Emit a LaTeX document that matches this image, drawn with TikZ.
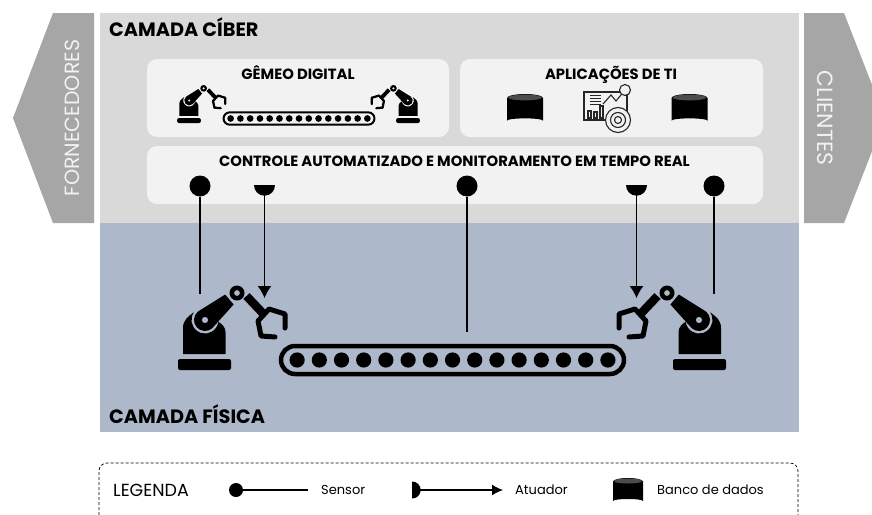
\documentclass[tikz,border=0pt]{standalone}
\usepackage{fontspec}
\setmainfont{Poppins}
\usetikzlibrary{arrows.meta,shapes.geometric}
\definecolor{cinzaciber}{HTML}{D9D9D9}
\definecolor{azulfisica}{HTML}{ADB9CA}
\definecolor{cinzaseta}{HTML}{A6A6A6}
\definecolor{cinzapainel}{HTML}{F2F2F2}
\tikzset{
  painel/.style={fill=cinzapainel,rounded corners=10pt},
  titulo/.style={font=\bfseries\fontsize{14.8}{14.8}\selectfont,inner sep=0pt},
  camada/.style={font=\bfseries\fontsize{19.3}{19.3}\selectfont,inner sep=0pt,anchor=west},
  lado/.style={text=cinzapainel,font=\fontsize{20.6}{20.6}\selectfont,inner sep=0pt},
  legenda/.style={font=\fontsize{13}{13}\selectfont,inner sep=0pt,anchor=west},
  sensor/.style={circle,fill=black,inner sep=0pt,minimum size=21pt},
  atuador/.style={semicircle,fill=black,inner sep=0pt,minimum size=10.5pt,anchor=chord center,shape border rotate=180},
  fio/.style={line width=1.2pt},
  fioseta/.style={line width=1.2pt,-{Latex[length=12pt,width=14pt]}},
  icone/.style={draw=black!85,line width=1.1pt}
}
\newcommand{\robo}[4]{
  \begin{scope}[shift={(#1,#2)},xscale=#3*#4,yscale=#4]
    \fill[rounded corners=2pt] (-26.5,0) -- (-26.5,-11) -- (26.5,-11) -- (26.5,0) -- cycle;
    \fill (-21.5,-16) -- (-21.5,-42) .. controls (-21.5,-50) and (-16,-54) .. (-10.56,-57.74)
      arc[start angle=215,end angle=8,radius=13.5]
      .. controls (18,-46) and (21,-42) .. (21,-38) -- (21,-16) -- cycle;
    \fill[even odd rule] (7.6,-41.6) arc[start angle=50,end angle=230,radius=11]
      -- (20.7,-75.5) -- (29.1,-65.5) -- cycle (0.5,-50) circle (3.2);
    \fill[even odd rule] (32.5,-77) circle (7.5) (32.5,-77) circle (3);
    \draw[line width=#4*8.5pt] (42,-74) -- (60,-55);
    \draw[line width=#4*5pt,line cap=round,line join=round] (80.5,-42) -- (80.5,-56) -- (64.5,-61)
      -- (53.5,-49) -- (56.5,-34) -- (70.5,-33);
  \end{scope}
}
\newcommand{\esteira}[3]{
  \begin{scope}[shift={(#1,#2)},scale=#3]
    \draw[line width=#3*4.5pt] (-157.5,-14) -- (157.5,-14) arc[start angle=-90,end angle=90,radius=14]
      -- (-157.5,14) arc[start angle=90,end angle=270,radius=14] -- cycle;
    \foreach\x in{-7,...,7}{
      \fill (\x*22.2,0) circle (7.6);}
  \end{scope}
}
\newcommand{\banco}[4]{
  \begin{scope}[shift={(#1,#2)},xscale=#3,yscale=#4]
    \fill (-1,-0.36) -- (-1,0.42) arc[start angle=180,end angle=360,x radius=1,y radius=0.08] -- (1,-0.36) -- cycle;
    \fill (0,-0.36) ellipse (1 and 0.14);
    \fill[black!70] (0,-0.38) ellipse (0.94 and 0.1);
  \end{scope}
}
\begin{document}
\begin{tikzpicture}[x=1pt,y=-1pt]
  \useasboundingbox (0,0) rectangle (872,514);
  \clip (0,0) rectangle (872,514);
  \fill[cinzaciber] (100,13) rectangle (799,223);
  \fill[azulfisica] (100,223) rectangle (799,432);
  \fill[cinzaseta] (94,13) -- (53,13) -- (13,118) -- (53,223) -- (94,223) -- cycle;
  \fill[cinzaseta] (804,13) -- (844,13) -- (885,118) -- (844,223) -- (804,223) -- cycle;
  \node[lado,rotate=90] (fornecedores) at (72,118) {FORNECEDORES};
  \node[lado,rotate=-90,font=\fontsize{22}{22}\selectfont] (clientes) at (825,118) {CLIENTES};
  \node[camada] (ciber) at (109,27.5) {CAMADA CÍBER};
  \node[camada] (fisica) at (109,414.5) {CAMADA FÍSICA};
  \fill[painel] (147,59) rectangle (449,137);
  \fill[painel] (460,59) rectangle (763,137);
  \fill[painel] (147,146) rectangle (763,204);
  \node[titulo] (gemeo) at (298,73) {GÊMEO DIGITAL};
  \node[titulo] (aplicacoes) at (611,75) {APLICAÇÕES DE TI};
  \node[titulo] (controle) at (454.5,161) {CONTROLE AUTOMATIZADO E MONITORAMENTO EM TEMPO REAL};
  \robo{189}{123}{1}{0.45}
  \robo{408}{123}{-1}{0.45}
  \esteira{299}{118.5}{0.44}
  \banco{525}{108.5}{18}{29}
  \banco{689.5}{108.5}{18}{29}
  \draw[icone,fill=cinzapainel] (584,92) rectangle (627,120);
  \foreach\y in{95,98,101,104}{
    \draw[black!85,line width=0.9pt] (590,\y) -- (601,\y);}
  \draw[icone] (603,104) -- (611,95) -- (616,101) -- (625,90);
  \draw[icone] (588,111) rectangle (591,118) (594,112) rectangle (597,118) (600,106) rectangle (603,118);
  \draw[icone,fill=cinzapainel] (625,90) circle (5.5);
  \draw[icone,fill=cinzapainel] (618,120) circle (12.5);
  \draw[icone] (618,120) circle (7.5) (618,120) circle (3.5);
  \node[sensor] (sensorA) at (200,186) {};
  \node[sensor] (sensorB) at (467,186) {};
  \node[sensor] (sensorC) at (714,186) {};
  \node[atuador] (atuadorA) at (264.5,185) {};
  \node[atuador] (atuadorB) at (636.5,185) {};
  \coordinate (fimA) at (200,294);
  \coordinate (fimB) at (467,332);
  \coordinate (fimC) at (714,294);
  \coordinate (alvoA) at (264.5,298);
  \coordinate (alvoB) at (636.5,298);
  \draw[fio] (sensorA) -- (fimA);
  \draw[fio] (sensorB) -- (fimB);
  \draw[fio] (sensorC) -- (fimC);
  \draw[fioseta] (atuadorA.chord center) -- (alvoA);
  \draw[fioseta] (atuadorB.chord center) -- (alvoB);
  \robo{204.5}{370}{1}{1}
  \robo{699.5}{370}{-1}{1}
  \esteira{452.5}{360}{1}
  \draw[densely dashed,line width=0.7pt,rounded corners=8pt] (99,520) -- (99,463) -- (798,463) -- (798,520);
  \node[legenda,font=\fontsize{17.5}{17.5}\selectfont] (legenda) at (113,490) {LEGENDA};
  \node[sensor,minimum size=14pt] (sensorL) at (236,490) {};
  \coordinate (fimL) at (308,490);
  \draw[fio] (sensorL) -- (fimL);
  \node[legenda] (textoSensor) at (321,490) {Sensor};
  \node[atuador,minimum size=8.5pt,shape border rotate=270] (atuadorL) at (412,490) {};
  \coordinate (alvoL) at (503,490);
  \draw[line width=1.2pt,-{Latex[length=11pt,width=11pt]}] (atuadorL.chord center) -- (alvoL);
  \node[legenda] (textoAtuador) at (515,490) {Atuador};
  \banco{628}{490.5}{15}{25}
  \node[legenda] (textoBanco) at (657,490) {Banco de dados};
\end{tikzpicture}
\end{document}
